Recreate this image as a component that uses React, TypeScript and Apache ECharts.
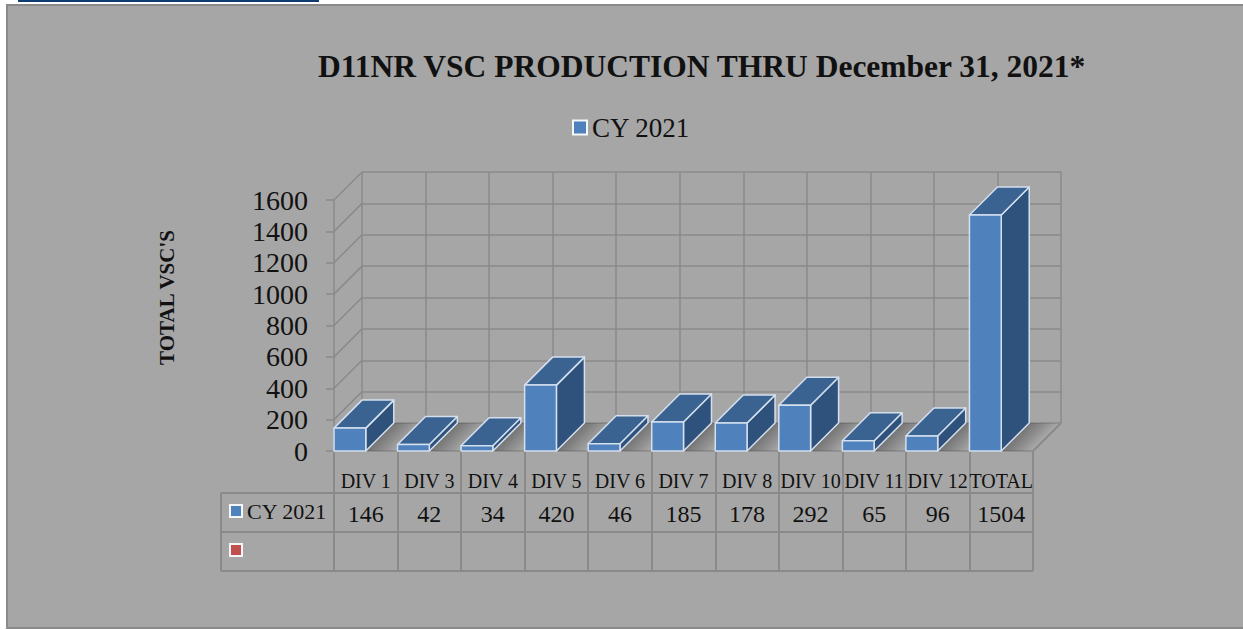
import React, { useEffect, useRef } from "react";
import * as echarts from "echarts";

const categories = ["DIV 1", "DIV 3", "DIV 4", "DIV 5", "DIV 6", "DIV 7", "DIV 8", "DIV 10", "DIV 11", "DIV 12", "TOTAL"];
const cy2021 = [146, 42, 34, 420, 46, 185, 178, 292, 65, 96, 1504];
const yTicks = [0, 200, 400, 600, 800, 1000, 1200, 1400, 1600];
const seriesName = "CY 2021";
const titleText = "D11NR VSC PRODUCTION THRU December 31, 2021*";
const yName = "TOTAL VSC'S";

const FONT = "'Liberation Serif', serif";
const LINE = "#8a8a8a";
const BG = "#a6a6a6";
const BLUE = "#4f81bd";
const TOP = "#3a6391";
const SIDE = "#2f527c";
const EDGE = "#d5e0ee";
const RED = "#c0504d";
const DEPTH = 28;
const BAR_RATIO = 0.5;

function poly(points: number[][], style: any) {
  return { type: "polygon", shape: { points }, style };
}

const renderShadow = (_p: any, api: any) => {
  const [cx, y0] = api.coord([api.value(0), 0]);
  const band = api.size([1, 0])[0];
  const x1 = cx - band / 2 + band * BAR_RATIO;
  const children: any[] = [];
  const strips = 9;
  const w = 3;
  for (let s = 0; s < strips; s++) {
    const o = 0.42 * (1 - s / strips);
    children.push(
      poly(
        [
          [x1 + s * w, y0],
          [x1 + s * w + DEPTH, y0 - DEPTH],
          [x1 + (s + 1) * w + DEPTH, y0 - DEPTH],
          [x1 + (s + 1) * w, y0],
        ],
        { fill: `rgba(50,50,50,${o})`, stroke: "none" }
      )
    );
  }
  return { type: "group", children };
};

const renderBar = (_p: any, api: any) => {
  const i = api.value(0);
  const [cx, y0] = api.coord([i, 0]);
  const [, y1] = api.coord([i, api.value(1)]);
  const band = api.size([1, 0])[0];
  const x0 = cx - band / 2;
  const x1 = x0 + band * BAR_RATIO;
  const st = { stroke: EDGE, lineWidth: 1.5, lineJoin: "round" };
  return {
    type: "group",
    children: [
      poly(
        [
          [x1, y0],
          [x1 + DEPTH, y0 - DEPTH],
          [x1 + DEPTH, y1 - DEPTH],
          [x1, y1],
        ],
        { fill: SIDE, ...st }
      ),
      poly(
        [
          [x0, y1],
          [x0 + DEPTH, y1 - DEPTH],
          [x1 + DEPTH, y1 - DEPTH],
          [x1, y1],
        ],
        { fill: TOP, ...st }
      ),
      { type: "rect", shape: { x: x0, y: y1, width: x1 - x0, height: y0 - y1 }, style: { fill: BLUE, ...st } },
    ],
  };
};

const renderWall = (_p: any, api: any) => {
  const [cx, y] = api.coord([0, api.value(0)]);
  const band = api.size([1, 0])[0];
  const x = cx - band / 2;
  return {
    type: "line",
    shape: { x1: x, y1: y, x2: x + DEPTH, y2: y - DEPTH },
    style: { stroke: LINE, lineWidth: 1.5 },
  };
};

const renderCell = (_p: any, api: any) => {
  const [cx] = api.coord([api.value(0), 0]);
  return {
    type: "text",
    style: {
      text: String(api.value(1)),
      x: cx,
      y: 514,
      align: "center",
      verticalAlign: "middle",
      font: `24px ${FONT}`,
      fill: "#111",
    },
  };
};

function hLine(x1: number, y1: number, x2: number, y2: number) {
  return { type: "line", shape: { x1, y1, x2, y2 }, style: { stroke: LINE, lineWidth: 2 }, z: 1 };
}

function marker(x: number, y: number, fill: string) {
  return { type: "rect", shape: { x: x + 1, y: y + 1, width: 12, height: 12 }, style: { fill, stroke: "#f4f6f8", lineWidth: 2 }, z: 3 };
}

export default function App() {
  const ref = useRef<HTMLDivElement>(null);
  useEffect(() => {
    const chart = echarts.init(ref.current!, undefined, { renderer: "svg" });
    const barData = cy2021.map((v, i) => [i, v]);
    chart.setOption({
      animation: false,
      backgroundColor: "#ffffff",
      title: {
        text: titleText,
        left: 313,
        top: 45,
        textStyle: { fontFamily: FONT, fontWeight: "bold", fontSize: 31.5, color: "#111" },
      },
      legend: {
        left: 567,
        top: 109,
        itemWidth: 14,
        itemHeight: 14,
        itemGap: 8,
        data: [{ name: seriesName, icon: "rect" }],
        textStyle: { fontFamily: FONT, fontSize: 27, color: "#111" },
      },
      grid: [
        { left: 334, top: 200, width: 699, height: 251 },
        { left: 362, top: 172, width: 699, height: 251 },
      ],
      xAxis: [
        {
          type: "category",
          gridIndex: 0,
          data: categories,
          axisLine: { lineStyle: { color: LINE, width: 1.5 } },
          axisTick: { show: true, length: 120, lineStyle: { color: LINE, width: 2 } },
          axisLabel: { interval: 0, margin: 20, hideOverlap: false, fontFamily: FONT, fontSize: 20, color: "#111" },
          splitLine: { show: false },
          z: 1,
        },
        {
          type: "category",
          gridIndex: 1,
          data: categories,
          axisLine: { show: false },
          axisTick: { show: false },
          axisLabel: { show: false },
          splitLine: { show: true, interval: 0, lineStyle: { color: LINE, width: 1.5 } },
        },
      ],
      yAxis: [
        {
          type: "value",
          gridIndex: 0,
          min: 0,
          max: 1600,
          interval: 200,
          axisLine: { show: true, lineStyle: { color: LINE, width: 1.5 } },
          axisTick: { show: true, length: 8, lineStyle: { color: LINE, width: 1.5 } },
          axisLabel: { margin: 26, fontFamily: FONT, fontSize: 28, color: "#111", formatter: (v: number) => String(v) },
          splitLine: { show: false },
        },
        {
          type: "value",
          gridIndex: 1,
          min: 0,
          max: 1600,
          interval: 200,
          name: yName,
          nameLocation: "middle",
          nameGap: 185,
          nameRotate: 90,
          nameTextStyle: { fontFamily: FONT, fontWeight: "bold", fontSize: 21, color: "#111" },
          axisLine: { show: false },
          axisTick: { show: false },
          axisLabel: { show: false },
          splitLine: { show: true, lineStyle: { color: LINE, width: 1.5 } },
        },
      ],
      graphic: [
        { type: "rect", shape: { x: 18, y: 0, width: 301, height: 2 }, style: { fill: "#0f3d73" }, z: -1 },
        { type: "rect", shape: { x: 7, y: 5, width: 1250, height: 623 }, style: { fill: BG, stroke: LINE, lineWidth: 2 }, z: -2 },
        hLine(221, 493, 1033, 493),
        hLine(221, 532, 1033, 532),
        hLine(221, 571, 1033, 571),
        hLine(221, 493, 221, 571),
        hLine(1033, 451, 1061, 423),
        marker(229, 504, BLUE),
        marker(229, 543, RED),
        {
          type: "text",
          style: { text: seriesName, x: 247, y: 511, verticalAlign: "middle", font: `22px ${FONT}`, fill: "#111" },
          z: 3,
        },
      ],
      series: [
        { type: "custom", name: "walls", coordinateSystem: "cartesian2d", xAxisIndex: 0, yAxisIndex: 0, data: yTicks.map((t) => [t]), encode: { y: 0 }, renderItem: renderWall, z: 1, silent: true },
        { type: "custom", name: "shadow", xAxisIndex: 0, yAxisIndex: 0, data: barData, encode: { x: 0, y: 1 }, renderItem: renderShadow, z: 2, silent: true },
        { type: "custom", name: seriesName, xAxisIndex: 0, yAxisIndex: 0, data: barData, encode: { x: 0, y: 1 }, renderItem: renderBar, z: 3, itemStyle: { color: BLUE, borderColor: "#f4f6f8", borderWidth: 2 } },
        { type: "custom", name: "table", xAxisIndex: 0, yAxisIndex: 0, data: barData, encode: { x: 0, y: 1 }, renderItem: renderCell, z: 4, silent: true },
      ],
    });
    return () => chart.dispose();
  }, []);
  return <div ref={ref} style={{ position: "fixed", left: 0, top: 0, width: 1243, height: 630 }} />;
}
